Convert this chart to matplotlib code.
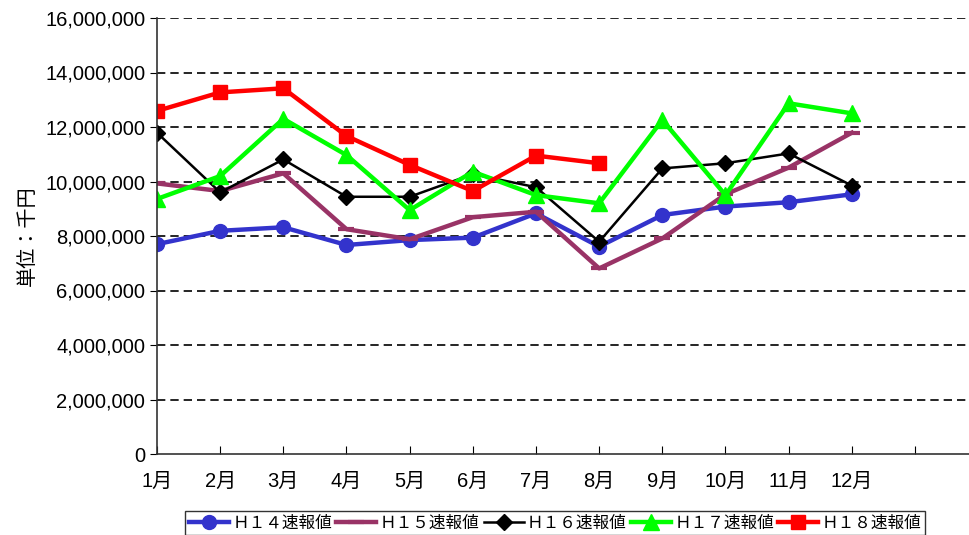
import matplotlib.pyplot as plt
import numpy as np
from matplotlib.ticker import FuncFormatter

plt.rcParams['font.family'] = ['Liberation Sans', 'Noto Sans CJK JP']

# Monthly values (unit: thousand yen)
months = ['1月', '2月', '3月', '4月', '5月', '6月', '7月', '8月', '9月', '10月', '11月', '12月']
h14 = [7700000, 8190000, 8320000, 7670000, 7850000, 7940000, 8830000, 7610000, 8770000, 9080000, 9240000, 9530000]
h15 = [9930000, 9650000, 10300000, 8250000, 7880000, 8690000, 8890000, 6810000, 7910000, 9530000, 10510000, 11790000]
h16 = [11790000, 9600000, 10810000, 9440000, 9440000, 10270000, 9790000, 7790000, 10480000, 10670000, 11030000, 9850000]
h17 = [9360000, 10200000, 12300000, 10970000, 8950000, 10360000, 9500000, 9200000, 12260000, 9500000, 12870000, 12500000]
h18 = [12590000, 13270000, 13420000, 11670000, 10610000, 9650000, 10950000, 10670000]

labels = ['Ｈ１４速報値', 'Ｈ１５速報値', 'Ｈ１６速報値', 'Ｈ１７速報値', 'Ｈ１８速報値']

fig = plt.figure(figsize=(9.69, 5.35), dpi=100)
ax = fig.add_axes([157 / 969, 1 - 454 / 535, (975 - 157) / 969, (454 - 18) / 535])

x = np.arange(len(months))
ax.plot(x, h14, color='#3333CC', lw=3.2, marker='o', ms=10, label=labels[0])
ax.plot(x, h15, color='#993366', lw=3.2, marker='_', ms=12, mew=3, label=labels[1])
ax.plot(x, h16, color='black', lw=1.8, marker='D', ms=8, label=labels[2])
ax.plot(x, h17, color='#00FF00', lw=3.2, marker='^', ms=11, label=labels[3])
ax.plot(np.arange(len(h18)), h18, color='#FF0000', lw=3.2, marker='s', ms=10, label=labels[4])

ax.set_xlim(0, 12.95)
ax.set_ylim(0, 16000000)
ax.set_yticks(np.arange(0, 16000001, 2000000))
ax.yaxis.set_major_formatter(FuncFormatter(lambda v, p: f'{int(v):,}'))
ax.set_xticks(np.arange(0, 13))
ax.set_xticklabels(months + [''])
ax.tick_params(axis='x', direction='in', length=6, labelsize=14.5, pad=13)
ax.tick_params(axis='y', direction='out', length=5, labelsize=14.5)

for v in range(2000000, 16000001, 2000000):
    ax.axhline(v, color='black', lw=1.2, ls=(0, (5, 3)), zorder=0)

for s in ['top', 'right']:
    ax.spines[s].set_visible(False)
ax.spines['left'].set_color('#333333')
ax.spines['bottom'].set_color('#333333')
ax.spines['left'].set_linewidth(1.2)
ax.spines['bottom'].set_linewidth(1.2)

ax.set_ylabel('単位：千円', fontsize=14.5, labelpad=6)

leg = fig.legend(loc='upper left', bbox_to_anchor=(185 / 969, 1 - 511 / 535), ncol=5,
                 fontsize=12, frameon=True, fancybox=False, edgecolor='black',
                 handlelength=2.4, handletextpad=0.2, columnspacing=0.25,
                 borderpad=0.25, borderaxespad=0)
leg.get_frame().set_linewidth(1.0)

fig.savefig('out.png', dpi=100)
